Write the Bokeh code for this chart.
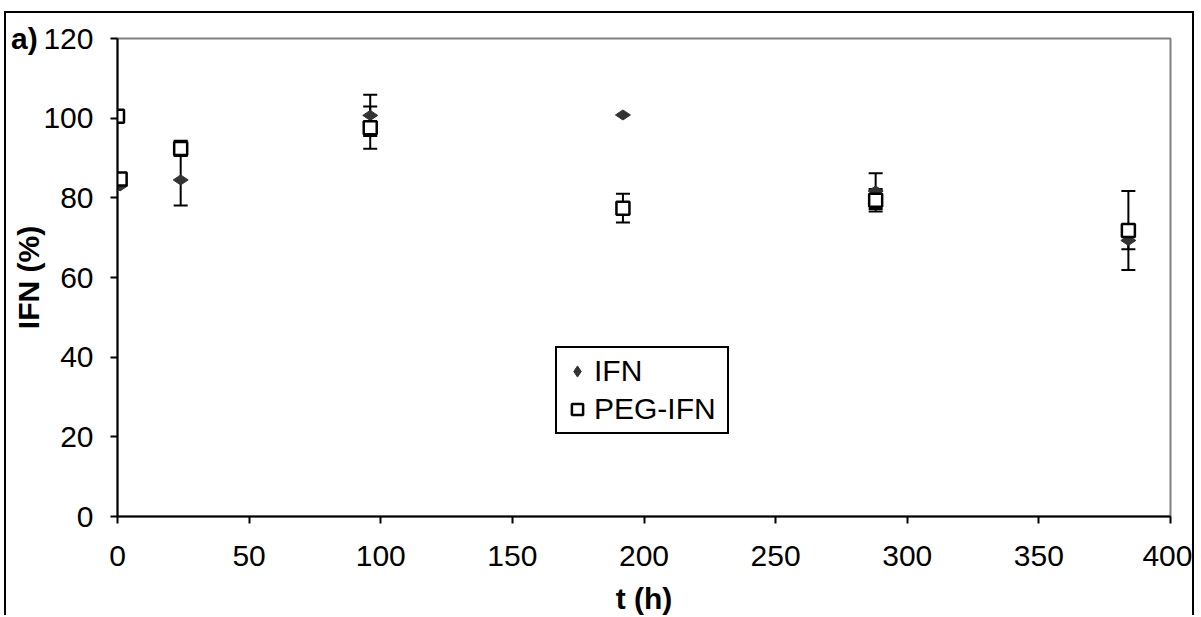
import numpy as np
from bokeh.plotting import figure
from bokeh.layouts import column
from bokeh.models import (ColumnDataSource, Whisker, TeeHead, Legend,
                          LegendItem, FixedTicker, Range1d, Div)
from bokeh.embed import file_html
from bokeh.resources import INLINE

# ---- data ----
t_ifn = [0, 1, 24, 96, 192, 288, 384]
ifn = [100.0, 83.0, 84.5, 100.7, 100.8, 81.7, 69.3]
ifn_err = [0.0, 0.0, 6.4, 5.2, 0.0, 4.5, 2.2]

t_peg = [0, 1, 24, 96, 192, 288, 384]
peg = [100.5, 84.7, 92.4, 97.6, 77.4, 79.4, 71.8]
peg_err = [0.0, 1.3, 1.9, 5.3, 3.6, 2.8, 9.9]

x_ticks = [0, 50, 100, 150, 200, 250, 300, 350, 400]
y_ticks = [0, 20, 40, 60, 80, 100, 120]

FONT = "Liberation Sans"
ML, MR, MT, MB = 111, 26, 25, 98
FW, FH = 1049, 476

p = figure(output_backend="svg", toolbar_location=None,
           frame_width=FW, frame_height=FH,
           min_border_left=ML, min_border_right=MR,
           min_border_top=MT, min_border_bottom=MB,
           x_range=Range1d(0, 400), y_range=Range1d(0, 120))
# outer frame of the panel (bottom edge lies outside the picture)
p.styles = {"border-top": "2px solid black", "border-left": "2px solid black",
            "border-right": "2px solid black", "margin-top": "11px",
            "margin-left": "4px"}

p.xgrid.visible = False
p.ygrid.visible = False
p.outline_line_color = "#808080"
p.outline_line_width = 2

for ax in (p.xaxis[0], p.yaxis[0]):
    ax.axis_line_color = "black"
    ax.axis_line_width = 2
    ax.major_tick_line_color = "black"
    ax.major_tick_line_width = 2
    ax.major_tick_out = 7
    ax.major_tick_in = 0
    ax.minor_tick_line_color = None
    ax.major_label_text_font = FONT
    ax.major_label_text_font_size = "30px"
    ax.major_label_text_color = "black"
    ax.axis_label_text_font = FONT
    ax.axis_label_text_font_size = "30px"
    ax.axis_label_text_font_style = "bold"
    ax.axis_label_text_color = "black"

p.xaxis.ticker = FixedTicker(ticks=x_ticks)
p.yaxis.ticker = FixedTicker(ticks=y_ticks)
p.xaxis.axis_label = "t (h)"
p.yaxis.axis_label = "IFN (%)"
p.xaxis.major_label_standoff = 22
p.yaxis.major_label_standoff = 17
p.xaxis.axis_label_standoff = 13
p.yaxis.axis_label_standoff = -5


def err_source(t, v, e):
    tt, lo, hi = [], [], []
    for a, b, c in zip(t, v, e):
        if c > 0:
            tt.append(a)
            lo.append(b - c)
            hi.append(b + c)
    return ColumnDataSource(dict(t=tt, lower=lo, upper=hi))


for src in (err_source(t_ifn, ifn, ifn_err), err_source(t_peg, peg, peg_err)):
    w = Whisker(source=src, base="t", lower="lower", upper="upper",
                line_color="black", line_width=2,
                upper_head=TeeHead(size=14, line_width=2, line_color="black"),
                lower_head=TeeHead(size=14, line_width=2, line_color="black"))
    p.add_layout(w)

r_ifn = p.scatter(t_ifn, ifn, marker="diamond", size=15, angle=np.pi / 2,
                  fill_color="#333333", line_color="#333333", line_width=1)
r_peg = p.scatter(t_peg, peg, marker="square", size=13,
                  fill_color="white", line_color="black", line_width=2.5)

legend = Legend(items=[LegendItem(label="IFN", renderers=[r_ifn]),
                       LegendItem(label="PEG-IFN", renderers=[r_peg])],
                location=(438, 82))
legend.label_text_font = FONT
legend.label_text_font_size = "30px"
legend.label_text_color = "black"
legend.border_line_color = "black"
legend.border_line_width = 2
legend.border_line_alpha = 1
legend.background_fill_color = "white"
legend.background_fill_alpha = 1
legend.padding = 6
legend.spacing = 4
legend.glyph_width = 28
legend.glyph_height = 28
legend.label_height = 28
legend.label_width = 127
legend.label_standoff = 3
legend.margin = 0
p.add_layout(legend, "center")

# panel tag "a)" in the top-left corner
tag = Div(text="a)", styles={"position": "absolute", "left": "6px",
                             "top": "19px", "font-family": FONT,
                             "font-weight": "bold", "font-size": "30px",
                             "line-height": "30px", "color": "black",
                             "z-index": "10"})

root = column(p, tag)

open("out.html", "w").write(file_html(root, INLINE))
